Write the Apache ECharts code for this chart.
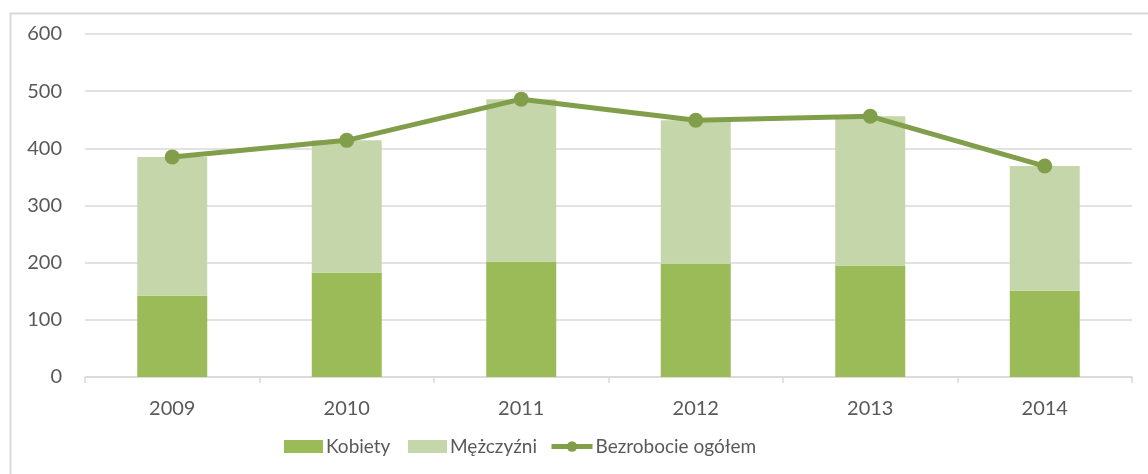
<!DOCTYPE html>
<html>
<head>
<meta charset="utf-8">
<script src="https://cdn.jsdelivr.net/npm/echarts@6/dist/echarts.min.js"></script>
<style>
  html, body { margin: 0; padding: 0; background: #fff; }
  #chart { width: 1148px; height: 474px; }
</style>
</head>
<body>
<div id="chart"></div>
<script>
// dane
var years = ["2009", "2010", "2011", "2012", "2013", "2014"];
var kobiety = [142, 183, 202, 198, 195, 151];
var mezczyzni = [243, 231, 284, 251, 261, 218];
var ogolem = [385, 414, 486, 449, 456, 369];

var font = "Lato, 'Open Sans', sans-serif";
var textColor = "#595959";
var lineColor = "#819e4a";

function legendAt(left, item, width) {
  return {
    left: left,
    top: 432,
    itemWidth: width,
    itemHeight: 13,
    textStyle: { fontFamily: font, fontSize: 19, color: textColor, padding: [0, 0, 0, -2] },
    data: [item],
  };
}

var chart = echarts.init(document.getElementById("chart"));
chart.setOption({
  animation: false,
  textStyle: { fontFamily: font, color: textColor },
  graphic: [
    {
      type: "rect",
      left: 8,
      top: 11,
      shape: { width: 1300, height: 600 },
      style: { fill: "none", stroke: "#d9d9d9", lineWidth: 2 },
      silent: true,
    },
  ],
  grid: { left: 85, right: 16, top: 34, bottom: 97 },
  legend: [
    legendAt(279, { name: "Kobiety", icon: "rect" }, 39),
    legendAt(403, { name: "Mężczyźni", icon: "rect" }, 39),
    legendAt(544, {
      name: "Bezrobocie ogółem",
      itemStyle: { color: lineColor },
      lineStyle: { color: lineColor, width: 5 },
    }, 41),
  ],
  xAxis: {
    type: "category",
    data: years,
    axisLine: { lineStyle: { color: "#d9d9d9", width: 1.5 } },
    axisTick: { show: true, length: 6, lineStyle: { color: "#d9d9d9", width: 1.5 } },
    axisLabel: { fontFamily: font, fontSize: 20, color: textColor, margin: 22 },
  },
  yAxis: {
    type: "value",
    min: 0,
    max: 600,
    interval: 100,
    axisLine: { show: false },
    axisTick: { show: false },
    axisLabel: { fontFamily: font, fontSize: 20, color: textColor, margin: 23 },
    splitLine: { lineStyle: { color: "#d9d9d9", width: 1.5 } },
  },
  series: [
    {
      name: "Kobiety",
      type: "bar",
      stack: "total",
      barWidth: 70,
      itemStyle: { color: "#9bbb59" },
      data: kobiety,
    },
    {
      name: "Mężczyźni",
      type: "bar",
      stack: "total",
      barWidth: 70,
      itemStyle: { color: "#c6d6ab" },
      data: mezczyzni,
    },
    {
      name: "Bezrobocie ogółem",
      type: "line",
      symbol: "circle",
      symbolSize: 15,
      lineStyle: { color: lineColor, width: 5 },
      itemStyle: { color: lineColor },
      z: 5,
      data: ogolem,
    },
  ],
});
</script>
</body>
</html>
